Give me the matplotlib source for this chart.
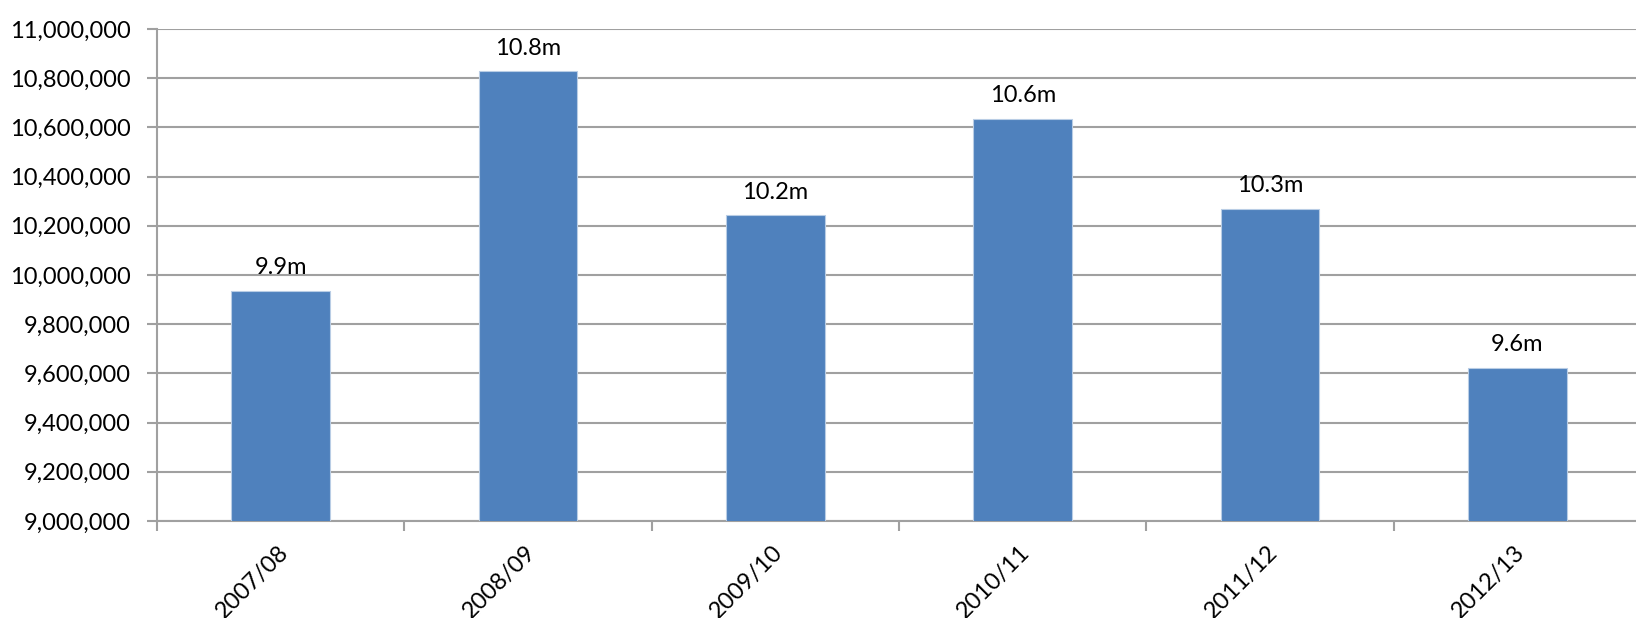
import numpy as np
import matplotlib.pyplot as plt
import matplotlib.transforms as mtransforms
from matplotlib.ticker import FuncFormatter, FixedLocator

years = ['2007/08', '2008/09', '2009/10', '2010/11', '2011/12', '2012/13']
journeys = [9936000, 10830000, 10244000, 10635000, 10270000, 9623000]
bar_labels = ['9.9m', '10.8m', '10.2m', '10.6m', '10.3m', '9.6m']

plt.rcParams['font.family'] = ['Lato', 'DejaVu Sans']

fig = plt.figure(figsize=(16.36, 6.18), dpi=100)
# plot area runs slightly past the right edge, as in the source
ax = fig.add_axes([157 / 1636, 1 - 521 / 618, 1484 / 1636, 492 / 618])

x = np.arange(len(years))
ax.bar(x, journeys, width=0.4, color='#4F81BD', edgecolor='#B9CDE5', linewidth=0.8, zorder=3)

for xi, v, lab in zip(x, journeys, bar_labels):
    ax.text(xi, v + 50000, lab, ha='center', va='bottom', fontsize=17, zorder=4)

ax.set_xlim(-0.5, len(years) - 0.5)
ax.set_ylim(9000000, 11000000)
ax.set_yticks(np.arange(9000000, 11000001, 200000))
ax.yaxis.set_major_formatter(FuncFormatter(lambda v, p: f'{int(v):,}'))
ax.grid(axis='y', color='#A0A0A0', linewidth=1.5, zorder=0)

# ticks at category boundaries, labels at centres
ax.xaxis.set_major_locator(FixedLocator(np.arange(-0.5, len(years), 1.0)))
ax.xaxis.set_minor_locator(FixedLocator(x))
ax.set_xticklabels([])
ax.set_xticklabels(years, minor=True, rotation=45, ha='right', va='center',
                   rotation_mode='anchor', fontsize=17)
ax.tick_params(axis='x', which='major', length=7, width=1.5, color='#A0A0A0', direction='out')
ax.tick_params(axis='x', which='minor', length=0, pad=20)
ax.tick_params(axis='y', length=7, width=1.5, color='#A0A0A0', labelsize=17, pad=12)

shift = mtransforms.ScaledTranslation(4 / 100, 0, fig.dpi_scale_trans)
for t in ax.get_xticklabels(minor=True):
    t.set_transform(t.get_transform() + shift)

for s in ['top', 'right']:
    ax.spines[s].set_visible(False)
for s in ['left', 'bottom']:
    ax.spines[s].set_color('#A0A0A0')
    ax.spines[s].set_linewidth(1.5)

fig.savefig('out.png', dpi=100)
